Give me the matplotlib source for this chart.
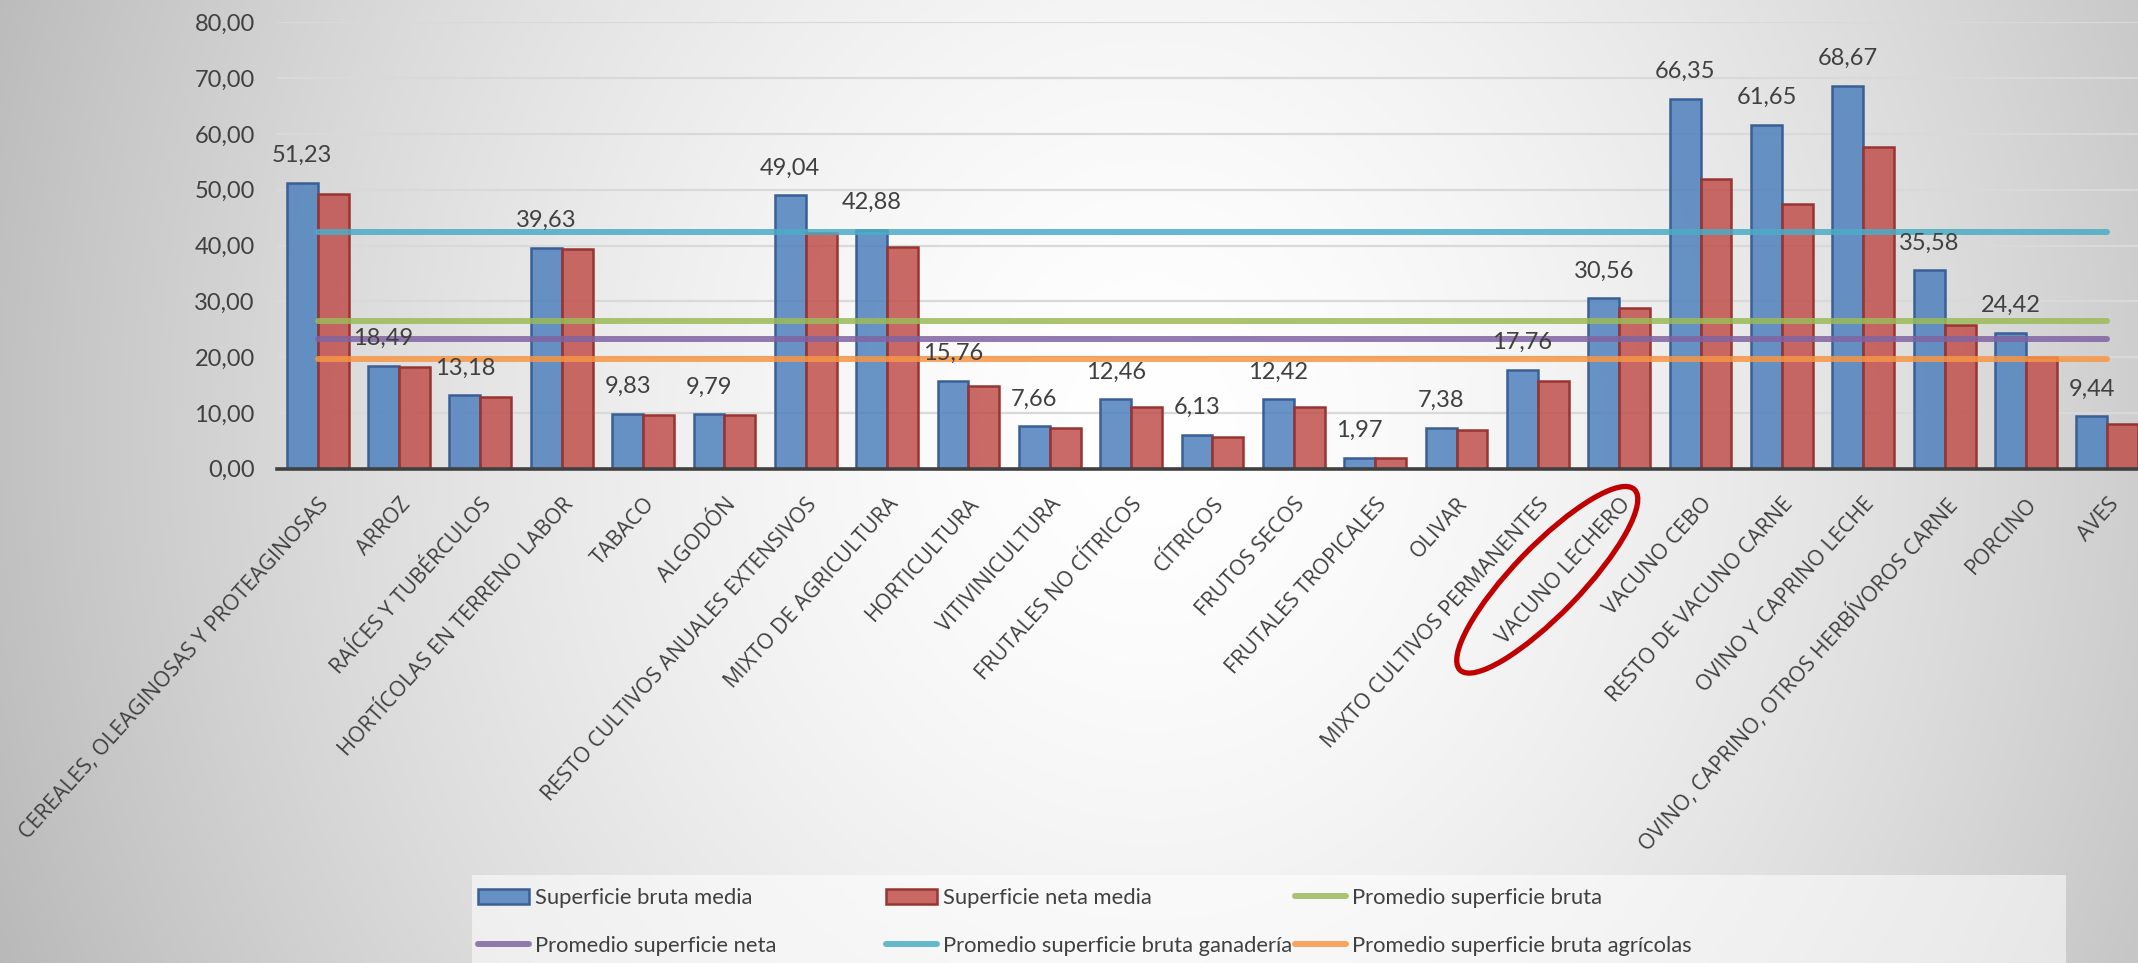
import numpy as np
import matplotlib
matplotlib.use("Agg")
import matplotlib.pyplot as plt
from matplotlib.patches import Rectangle, Ellipse
from matplotlib.lines import Line2D
from matplotlib.transforms import IdentityTransform
from matplotlib.ticker import FuncFormatter
from matplotlib import font_manager as fm

# ---------------- data ----------------
categories = [
    "CEREALES, OLEAGINOSAS Y PROTEAGINOSAS", "ARROZ", "RAÍCES Y TUBÉRCULOS",
    "HORTÍCOLAS EN TERRENO LABOR", "TABACO", "ALGODÓN",
    "RESTO CULTIVOS ANUALES EXTENSIVOS", "MIXTO DE AGRICULTURA", "HORTICULTURA",
    "VITIVINICULTURA", "FRUTALES NO CÍTRICOS", "CÍTRICOS", "FRUTOS SECOS",
    "FRUTALES TROPICALES", "OLIVAR", "MIXTO CULTIVOS PERMANENTES",
    "VACUNO LECHERO", "VACUNO CEBO", "RESTO DE VACUNO CARNE",
    "OVINO Y CAPRINO LECHE", "OVINO, CAPRINO, OTROS HERBÍVOROS CARNE",
    "PORCINO", "AVES",
]
bruta = [51.23, 18.49, 13.18, 39.63, 9.83, 9.79, 49.04, 42.88, 15.76, 7.66,
         12.46, 6.13, 12.42, 1.97, 7.38, 17.76, 30.56, 66.35, 61.65, 68.67,
         35.58, 24.42, 9.44]
neta = [49.3, 18.25, 12.9, 39.45, 9.65, 9.7, 42.2, 39.8, 14.8, 7.25,
        11.1, 5.75, 11.0, 1.9, 6.95, 15.7, 28.8, 52.0, 47.5, 57.7,
        25.8, 20.1, 8.05]
avg_bruta = 26.5
avg_neta = 23.3
avg_ganaderia = 42.4
avg_agricolas = 19.7
highlight = "VACUNO LECHERO"
y_ticks = [0, 10, 20, 30, 40, 50, 60, 70, 80]

lbl_bruta = "Superficie bruta media"
lbl_neta = "Superficie neta media"
lbl_avg_bruta = "Promedio superficie bruta"
lbl_avg_neta = "Promedio superficie neta"
lbl_avg_gan = "Promedio superficie bruta ganadería"
lbl_avg_agr = "Promedio superficie bruta agrícolas"


def pick(names):
    for n in names:
        try:
            fm.findfont(fm.FontProperties(family=n), fallback_to_default=False)
            return n
        except Exception:
            pass
    return "DejaVu Sans"


num_font = pick(["Liberation Sans Narrow", "Lato"])
leg_font = pick(["Lato", "Open Sans"])
cat_font = pick(["Open Sans", "Noto Sans"])
plt.rcParams["font.family"] = [num_font, "DejaVu Sans"]

TXT = "#404040"
W, H, DPI = 2138, 963, 100
fig = plt.figure(figsize=(W / DPI, H / DPI), dpi=DPI)

# ---------------- background gradient ----------------
bg = fig.add_axes([0, 0, 1, 1], zorder=-10)
yy, xx = np.mgrid[0:H, 0:W]
r = np.sqrt(((xx - 1150) / 1150.0) ** 2 + ((yy - 430) / 1300.0) ** 2)
g = 255 - 62 * np.clip(r, 0, 1.3) ** 1.6
img = np.dstack([g, g, g]).clip(0, 255).astype(np.uint8)
bg.imshow(img, aspect="auto", extent=[0, 1, 0, 1], interpolation="bilinear")
bg.set_axis_off()

# ---------------- main axes ----------------
y0_px, y80_px = 468.8, 22.4
ax_left, ax_right = 277, 2148
ax = fig.add_axes([ax_left / W, (H - y0_px) / H, (ax_right - ax_left) / W,
                   (y0_px - y80_px) / H])
ax.set_facecolor("none")

x = np.arange(len(categories))
bw = 0.38
blue_face = (0x4F / 255, 0x81 / 255, 0xBD / 255, 0.85)
red_face = (0xC0 / 255, 0x50 / 255, 0x4D / 255, 0.85)
ax.bar(x - bw / 2, bruta, bw, color=blue_face, edgecolor="#3A5F94",
       linewidth=1.8, zorder=3)
ax.bar(x + bw / 2, neta, bw, color=red_face, edgecolor="#963532",
       linewidth=1.8, zorder=3)

line_specs = [(avg_bruta, "#9BBB59"), (avg_neta, "#8064A2"),
              (avg_ganaderia, "#4BACC6"), (avg_agricolas, "#F79646")]
for v, c in line_specs:
    ax.plot(x, np.full(len(x), v), color=c, lw=4.3, alpha=0.85,
            solid_capstyle="round", zorder=4)

for xi, v in zip(x, bruta):
    ax.annotate(f"{v:.2f}".replace(".", ","), (xi - bw / 2, v),
                xytext=(0, 12), textcoords="offset points", ha="center",
                va="bottom", fontsize=17, color=TXT, family=num_font, zorder=6)

ax.set_xlim(-0.5, len(categories) - 0.5)
ax.set_ylim(y_ticks[0], y_ticks[-1])
ax.set_yticks(y_ticks)
ax.yaxis.set_major_formatter(FuncFormatter(lambda v, _: f"{v:.2f}".replace(".", ",")))
ax.tick_params(axis="y", length=0, pad=16, labelsize=17, labelcolor=TXT)
ax.yaxis.grid(True, color="#D9D9D9", lw=1.6, zorder=0)
ax.set_axisbelow(True)
for s in ["top", "right", "left"]:
    ax.spines[s].set_visible(False)
ax.spines["bottom"].set_color("#404040")
ax.spines["bottom"].set_linewidth(2.6)
ax.spines["bottom"].set_zorder(5)

ax.set_xticks(x)
ax.set_xticklabels(categories, rotation=48, ha="right", va="top",
                   rotation_mode="anchor", fontsize=15.5, family=cat_font,
                   color=TXT)
ax.tick_params(axis="x", length=0, pad=18)

# ---------------- highlight ellipse ----------------
idx = categories.index(highlight)
px, py = ax.transData.transform((idx, 0))
ell = Ellipse((px - 72, py - 111), 251, 68, angle=46, fill=False,
              edgecolor="#C00000", lw=3.8, transform=IdentityTransform(),
              zorder=20)
fig.add_artist(ell)

# ---------------- legend ----------------
fig.add_artist(Rectangle((472 / W, 0), (2066 - 472) / W, 88 / H,
                         transform=fig.transFigure, facecolor="white",
                         alpha=0.55, edgecolor="none", zorder=-5))

h_bruta = Rectangle((0, 0), 1, 1, facecolor=blue_face, edgecolor="#3A5F94", lw=1.8)
h_neta = Rectangle((0, 0), 1, 1, facecolor=red_face, edgecolor="#963532", lw=1.8)
h_lines = [Line2D([0], [0], color=c, lw=4.3, alpha=0.85, solid_capstyle="round")
           for _, c in line_specs]

columns = [
    ([h_bruta, h_lines[1]], [lbl_bruta, lbl_avg_neta]),
    ([h_neta, h_lines[2]], [lbl_neta, lbl_avg_gan]),
    ([h_lines[0], h_lines[3]], [lbl_avg_bruta, lbl_avg_agr]),
]
col_x = [478, 886, 1295]
for cx, (hs, ls) in zip(col_x, columns):
    fig.legend(hs, ls, loc="upper left", bbox_to_anchor=(cx / W, (H - 888) / H),
               frameon=False, prop={"family": leg_font, "size": 15.8},
               handlelength=2.33, handleheight=0.7, handletextpad=0.25,
               labelspacing=1.27, borderpad=0, borderaxespad=0, labelcolor=TXT)

fig.savefig("out.png", dpi=DPI)
